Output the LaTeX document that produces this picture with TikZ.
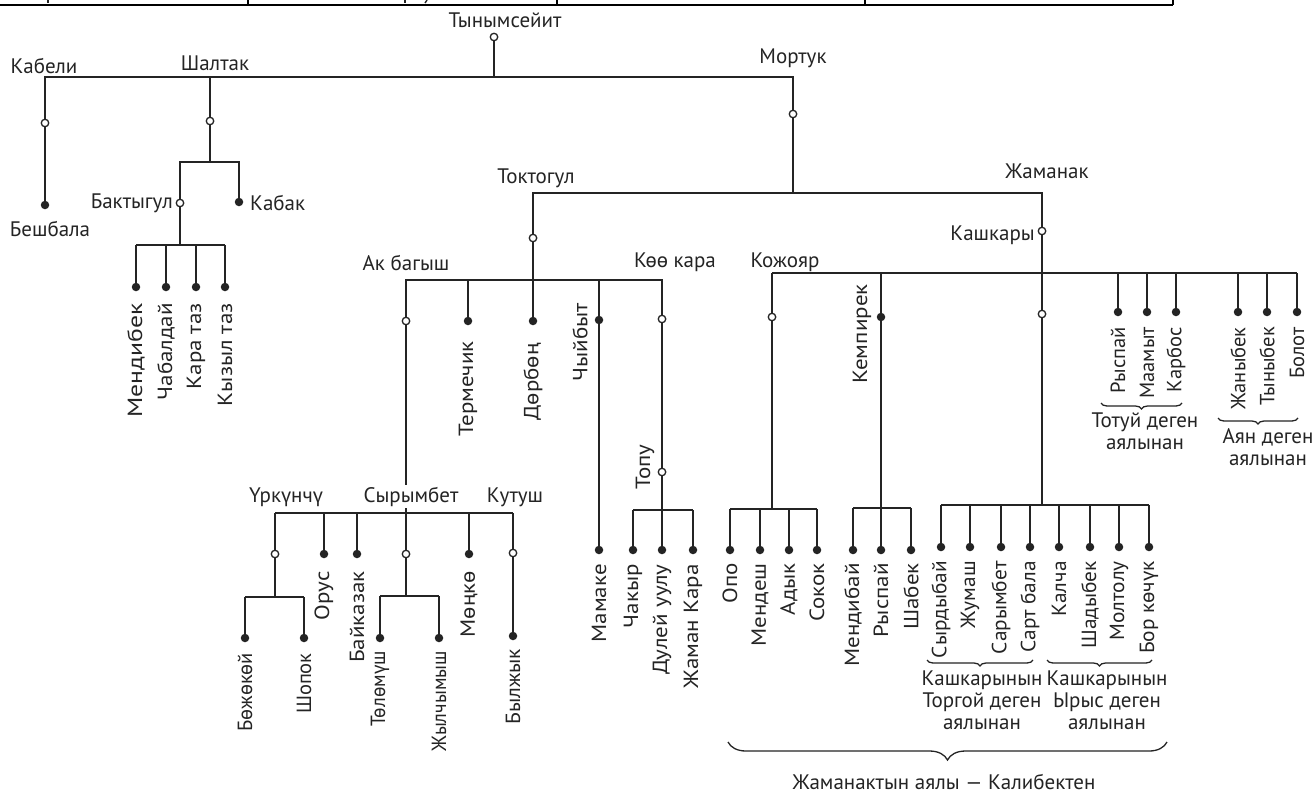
\documentclass[tikz,border=0pt]{standalone}
\usepackage{fontspec}
\setmainfont{PT Sans}
\usetikzlibrary{decorations.pathreplacing}
\definecolor{ink}{HTML}{242424}
\begin{document}
\begin{tikzpicture}[x=1pt,y=-1pt,
  ln/.style={draw=ink,line width=1.6pt},
  tframe/.style={draw=black,line width=2.2pt},
  oc/.style={circle,draw=ink,fill=white,line width=1.3pt,inner sep=0pt,minimum size=7.5pt},
  fd/.style={circle,fill=ink,inner sep=0pt,minimum size=8.5pt},
  lb/.style={text=ink,font=\fontsize{21}{22}\selectfont,inner sep=1pt},
  hl/.style={lb,anchor=base},
  vl/.style={text=ink,font=\fontsize{20.5}{22}\selectfont,inner sep=1pt,anchor=east,rotate=90,xscale=#1},
  vl/.default=1.12,
  captxt/.style={lb,align=center,anchor=north,inner sep=0pt},
  br/.style={draw=ink,line width=1.3pt,decorate,decoration={brace,mirror,amplitude=#1}},
]
\useasboundingbox (0,0) rectangle (1313,793);
% frame of the table above
\coordinate (F0) at (0,5); \coordinate (F1) at (1173,5);
\draw[tframe] (F0) -- (F1);
\foreach \x in {248,557,865,1173} \draw[tframe] (\x,0) -- (\x,5);
\draw[ink,line width=1.6pt] (48,0) -- (48,3);
\draw[ink,line width=1.6pt] (405,0) -- (405,3);
\draw[ink,line width=1.4pt] (427,0) -- (425,3);

% ---------- root level
\coordinate (R) at (494,37);
\coordinate (Rh) at (494,77);
\coordinate (K0) at (45,77); \coordinate (K1) at (45,123); \coordinate (K2) at (45,205);
\coordinate (S0) at (210,77); \coordinate (S1) at (210,121); \coordinate (S2) at (210,162);
\coordinate (M0) at (793,77); \coordinate (M1) at (793,114); \coordinate (M2) at (793,193);
\draw[ln] (K2) -- (K0) -- (M0) -- (M2);
\draw[ln] (R) -- (Rh);
\draw[ln] (S0) -- (S2);

% ---------- Шалтак
\coordinate (B0) at (180,162); \coordinate (B1) at (180,203); \coordinate (B2) at (180,245);
\coordinate (C0) at (239,162); \coordinate (C1) at (239,202);
\draw[ln] (B2) -- (B0) -- (C0) -- (C1);
\coordinate (Bl) at (136,245); \coordinate (Br) at (225,245);
\draw[ln] (Bl) -- (Br);
\foreach \x/\t/\s [count=\i] in {136/Мендибек/1.25,166/Чабалдай/1.12,196/Кара таз/1.12,225/Кызыл таз/1.12}{
  \coordinate (ba\i) at (\x,245);
  \node[fd] (bd\i) at (\x,287) {};
  \draw[ln] (ba\i) -- (bd\i.center);
  \node[vl=\s] (bt\i) at (\x,302) {\t};
}

% ---------- Мортук
\coordinate (T0) at (533,193); \coordinate (T1) at (533,238); \coordinate (T2) at (533,280); \coordinate (T3) at (533,321);
\coordinate (Z0) at (1042,193); \coordinate (Z1) at (1042,231); \coordinate (Z2) at (1042,273);
\coordinate (Z3) at (1042,314); \coordinate (Z4) at (1042,505);
\draw[ln] (T3) -- (T0) -- (Z0) -- (Z4);

% ---------- Токтогул row
\coordinate (A0) at (406,280); \coordinate (A1) at (406,321); \coordinate (A2) at (406,513);
\coordinate (P0) at (468,280); \coordinate (P1) at (468,321);
\coordinate (Q0) at (599,280); \coordinate (Q1) at (599,320); \coordinate (Q2) at (599,550);
\coordinate (G0) at (662,280); \coordinate (G1) at (662,319); \coordinate (G2) at (662,472);
\coordinate (G3) at (662,510);
\draw[ln] (A2) -- (A0) -- (G0) -- (G3);
\draw[ln] (P0) -- (P1);
\draw[ln] (Q0) -- (Q2);
\coordinate (Gl) at (633,510); \coordinate (Gr) at (693,510);
\draw[ln] (Gl) -- (Gr);
\foreach \x/\t [count=\i] in {633/Чакыр,662/Дулей уулу,693/Жаман Кара}{
  \coordinate (ga\i) at (\x,510);
  \node[fd] (gd\i) at (\x,550) {};
  \draw[ln] (ga\i) -- (gd\i.center);
  \node[vl] (gt\i) at (\x,563) {\t};
}

% ---------- Ак багыш row
\coordinate (Al) at (275,513); \coordinate (Ar) at (513,513);
\draw[ln] (Al) -- (Ar);
\coordinate (U1) at (275,554); \coordinate (U2) at (275,597);
\draw[ln] (Al) -- (U2);
\coordinate (Ul) at (245,597); \coordinate (Ur) at (304,597);
\draw[ln] (Ul) -- (Ur);
\foreach \x/\t [count=\i] in {245/Бөжөкөй,304/Шопок}{
  \coordinate (ua\i) at (\x,597);
  \node[fd] (ud\i) at (\x,638) {};
  \draw[ln] (ua\i) -- (ud\i.center);
  \node[vl=1.0] (ut\i) at (\x,652) {\t};
}
\foreach \x/\t [count=\i] in {324/Орус,357/Байказак,469/Мөңкө}{
  \coordinate (oa\i) at (\x,513);
  \node[fd] (od\i) at (\x,554) {};
  \draw[ln] (oa\i) -- (od\i.center);
  \node[vl] (ot\i) at (\x,570) {\t};
}
\coordinate (Y1) at (406,554); \coordinate (Y2) at (406,596);
\draw[ln] (A2) -- (Y2);
\coordinate (Yl) at (380,596); \coordinate (Yr) at (439,596);
\draw[ln] (Yl) -- (Yr);
\foreach \x/\t [count=\i] in {380/Төлөмүш,439/Жылчымыш}{
  \coordinate (ya\i) at (\x,596);
  \node[fd] (yd\i) at (\x,638) {};
  \draw[ln] (ya\i) -- (yd\i.center);
  \node[vl=0.95] (yt\i) at (\x,650) {\t};
}
\coordinate (KU1) at (513,553); \coordinate (KU2) at (513,636);
\draw[ln] (Ar) -- (KU2);

% ---------- Жаманак row
\coordinate (Jl) at (772,273); \coordinate (Jr) at (1297,273);
\draw[ln] (Jl) -- (Jr);
\coordinate (KO1) at (772,317); \coordinate (KO2) at (772,509);
\draw[ln] (Jl) -- (KO2);
\coordinate (KOl) at (730,509); \coordinate (KOr) at (817,509);
\draw[ln] (KOl) -- (KOr);
\foreach \x/\t [count=\i] in {730/Опо,760/Мендеш,789/Адык,817/Сокок}{
  \coordinate (ka\i) at (\x,509);
  \node[fd] (kd\i) at (\x,550) {};
  \draw[ln] (ka\i) -- (kd\i.center);
  \node[vl] (kt\i) at (\x,562) {\t};
}
\coordinate (KE0) at (881,273); \coordinate (KE1) at (881,317); \coordinate (KE2) at (881,508);
\draw[ln] (KE0) -- (KE2);
\coordinate (KEl) at (853,508); \coordinate (KEr) at (911,508);
\draw[ln] (KEl) -- (KEr);
\foreach \x/\t [count=\i] in {853/Мендибай,881/Рыспай,911/Шабек}{
  \coordinate (ea\i) at (\x,508);
  \node[fd] (ed\i) at (\x,550) {};
  \draw[ln] (ea\i) -- (ed\i.center);
  \node[vl] (et\i) at (\x,562) {\t};
}
\coordinate (KAl) at (941,505); \coordinate (KAr) at (1149,505);
\draw[ln] (KAl) -- (KAr);
\foreach \x/\t [count=\i] in {941/Сырдыбай,970/Жумаш,1001/Сарымбет,1030/Сарт бала,1059/Калча,1090/Шадыбек,1119/Молтолу,1149/Бор көчүк}{
  \coordinate (sa\i) at (\x,505);
  \node[fd] (sd\i) at (\x,547) {};
  \draw[ln] (sa\i) -- (sd\i.center);
  \node[vl=1.04] (st\i) at (\x,560) {\t};
}
\foreach \x/\t [count=\i] in {1118/Рыспай,1147/Маамыт,1176/Карбос,1238/Жаныбек,1267/Тыныбек,1297/Болот}{
  \coordinate (ra\i) at (\x,273);
  \node[fd] (rd\i) at (\x,312) {};
  \draw[ln] (ra\i) -- (rd\i.center);
  \node[vl=1.0] (rt\i) at (\x,326) {\t};
}

% ---------- open circles and single dots
\foreach \c in {R,K1,S1,B1,M1,T1,A1,G1,G2,U1,Y1,KU1,Z1,Z3,KO1}
  \node[oc] (o\c) at (\c) {};
\foreach \c in {K2,C1,T3,P1,Q1,Q2,KU2,KE1}
  \node[fd] (f\c) at (\c) {};

% ---------- horizontal labels
\node[hl] (lTyn) at (505,27) {Тынымсейит};
\node[hl] (lKab) at (44,73) {Кабели};
\node[hl] (lSha) at (215,70) {Шалтак};
\node[hl] (lMor) at (793,63) {Мортук};
\node[hl] (lBes) at (50,236) {Бешбала};
\node[lb,anchor=base east] (lBak) at (174,208) {Бактыгул};
\node[lb,anchor=base west] (lKbk) at (249,210) {Кабак};
\node[hl] (lTok) at (536,183) {Токтогул};
\node[hl] (lZha) at (1047,178) {Жаманак};
\node[lb,anchor=base east] (lKas) at (1036,240) {Кашкары};
\node[hl] (lAkb) at (406,270) {Ак багыш};
\node[hl] (lKoo) at (675,267) {Көө кара};
\node[hl] (lKoz) at (785,267) {Кожояр};
\node[hl] (lUrk) at (286,502) {Үркүнчү};
\node[hl,fill=white,inner sep=2pt] (lSyr) at (411,502) {Сырымбет};
\node[hl] (lKut) at (515,502) {Кутуш};

% ---------- single vertical labels
\node[vl] (lTer) at (468,340) {Термечик};
\node[vl] (lDor) at (533,342) {Дөрбөң};
\node[vl] (lChy) at (580,302) {Чыйбыт};
\node[vl] (lMam) at (599,563) {Мамаке};
\node[vl] (lTop) at (645,443) {Топу};
\node[vl] (lKem) at (862,283) {Кемпирек};
\node[vl=1.05] (lByl) at (513,648) {Былжык};

% ---------- braces and captions
\coordinate (b1a) at (1101,403); \coordinate (b1b) at (1182,403);
\draw[br=6pt] (b1a) -- (b1b);
\node[captxt] (c1) at (1145,413) {Тотуй деген\\аялынан};
\coordinate (b2a) at (1218,418); \coordinate (b2b) at (1298,418);
\draw[br=6pt] (b2a) -- (b2b);
\node[captxt] (c2) at (1268,428) {Аян деген\\аялынан};
\coordinate (b3a) at (927,660); \coordinate (b3b) at (1033,660);
\draw[br=6pt] (b3a) -- (b3b);
\node[captxt] (c3) at (982,671) {Кашкарынын\\Торгой деген\\аялынан};
\coordinate (b4a) at (1047,660); \coordinate (b4b) at (1152,660);
\draw[br=6pt] (b4a) -- (b4b);
\node[captxt] (c4) at (1107,671) {Кашкарынын\\Ырыс деген\\аялынан};
\coordinate (b5a) at (728,742); \coordinate (b5b) at (1167,742);
\draw[br=18pt] (b5a) -- (b5b);
\node[hl] (c5) at (944,789) {Жаманактын аялы — Калибектен};
\end{tikzpicture}
\end{document}
